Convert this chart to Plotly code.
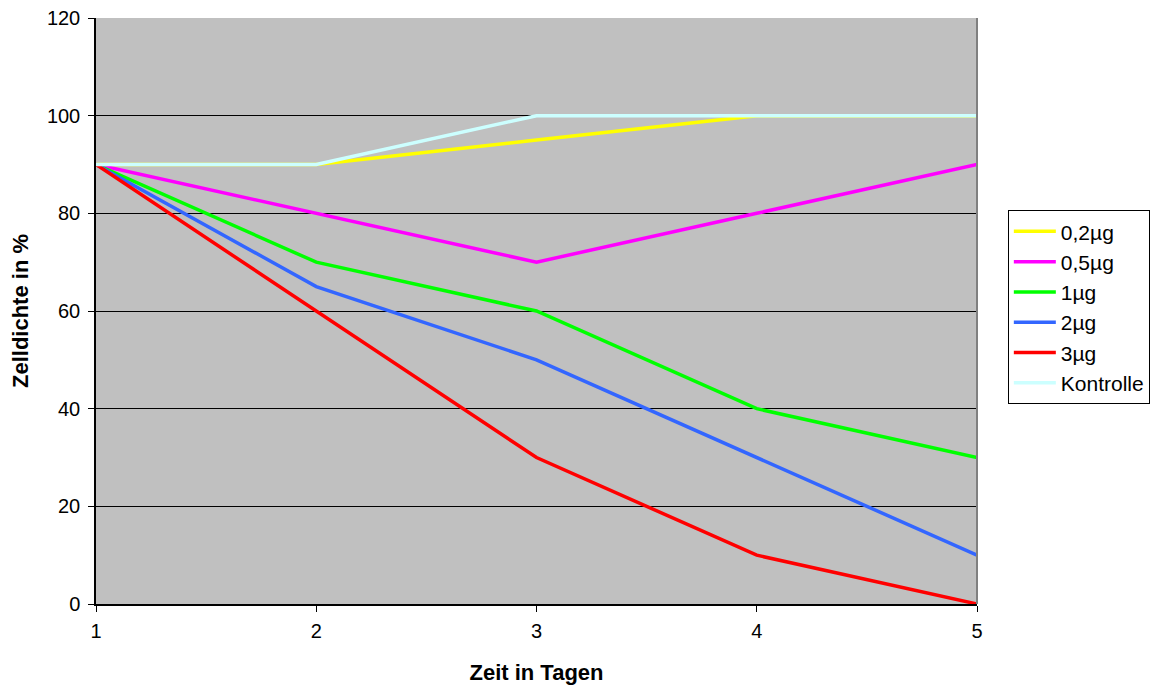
import plotly.graph_objects as go

days = [1, 2, 3, 4, 5]
series_names = ["0,2µg", "0,5µg", "1µg", "2µg", "3µg", "Kontrolle"]
v_02 = [90, 90, 95, 100, 100]
v_05 = [90, 80, 70, 80, 90]
v_1 = [90, 70, 60, 40, 30]
v_2 = [90, 65, 50, 30, 10]
v_3 = [90, 60, 30, 10, 0]
v_k = [90, 90, 100, 100, 100]
colors = ["#FFFF00", "#FF00FF", "#00FF00", "#3366FF", "#FF0000", "#CCFFFF"]
values = [v_02, v_05, v_1, v_2, v_3, v_k]

fig = go.Figure()
for i, (name, vals, col) in enumerate(zip(series_names, values, colors)):
    fig.add_trace(go.Scatter(x=days, y=vals, mode="lines", name=name,
                             legendgroup=f"g{i}",
                             line=dict(color=col, width=3.5)))

font = "Liberation Sans, Arial, sans-serif"
fig.update_layout(
    width=1157, height=678,
    margin=dict(l=88, r=188, t=10, b=82, autoexpand=False),
    paper_bgcolor="white", plot_bgcolor="#C0C0C0",
    font=dict(family=font, size=20, color="black"),
    showlegend=True,
    legend=dict(x=1.035, y=0.672, xanchor="left", yanchor="top",
                bordercolor="black", borderwidth=1, bgcolor="white",
                font=dict(size=21), tracegroupgap=5, traceorder="normal",
                itemwidth=42),
    xaxis=dict(range=[1, 5], tickvals=days, ticktext=[str(d) for d in days],
               showgrid=False, zeroline=False, showline=True, linecolor="black",
               linewidth=1.5, ticks="outside", ticklen=6, tickcolor="black",
               tickfont=dict(size=20), ticklabelstandoff=2, automargin=False,
               title=dict(text="<b>Zeit in Tagen</b>", standoff=24,
                          font=dict(size=22))),
    yaxis=dict(range=[0, 120], tickvals=[0, 20, 40, 60, 80, 100, 120],
               showgrid=True, gridcolor="black", gridwidth=1, zeroline=False,
               showline=True, linecolor="black", linewidth=1.5,
               ticks="outside", ticklen=6, tickcolor="black",
               tickfont=dict(size=20), ticklabelstandoff=4,
               ticklabeloverflow="allow", automargin=False,
               title=dict(text="<b>Zelldichte in %</b>", standoff=16,
                          font=dict(size=22))),
)
fig.add_shape(type="line", xref="paper", yref="paper", x0=1, x1=1, y0=0, y1=1,
              line=dict(color="#808080", width=2))
fig.write_html("out.html")
